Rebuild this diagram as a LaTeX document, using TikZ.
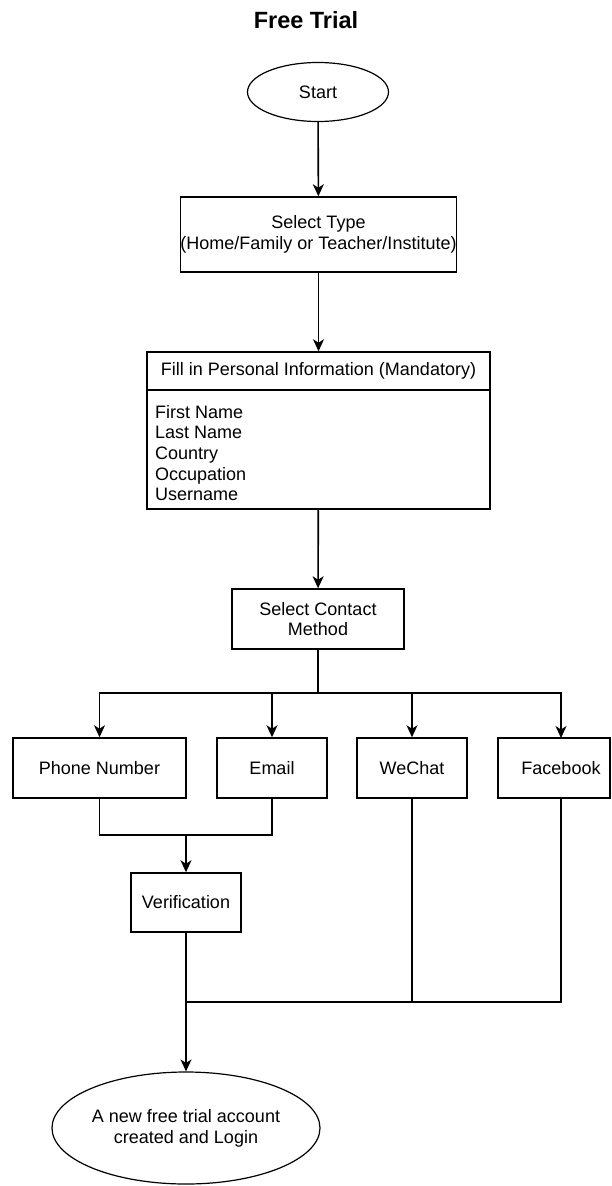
\documentclass[tikz,border=0pt]{standalone}
\usepackage{fontspec}
\setmainfont{Liberation Sans}
\usetikzlibrary{shapes.geometric,arrows.meta}
\begin{document}
\begin{tikzpicture}[x=1pt,y=-1pt,
  every node/.style={font=\fontsize{18}{20.7}\selectfont, inner sep=0pt},
  box/.style={draw, line width=1.5pt, rectangle, align=center},
  oval/.style={draw, line width=1.2pt, ellipse, align=center},
  conn/.style={line width=1.6pt},
  arr/.style={conn, -{Stealth[length=12pt,width=11pt,inset=3.5pt]}}]
\useasboundingbox (0,0) rectangle (611,1186);
\node[font=\fontsize{23.5}{28}\selectfont\bfseries] (title) at (306,20) {Free Trial};
\node[oval, minimum width=141pt, minimum height=59pt] (start) at (318,92) {Start};
\node[box, minimum width=247pt, minimum height=75pt] (type) at (318.5,234.5) {Select Type\\(Home/Family or Teacher/Institute)};
\node[box, minimum width=343pt, minimum height=157pt] (fill) at (318.5,430.5) {};
\coordinate (divl) at (147,390);
\coordinate (divr) at (490,390);
\draw[line width=1.5pt] (divl) -- (divr);
\node (fillhead) at (318.5,371) {Fill in Personal Information (Mandatory)};
\node[anchor=north west, align=left] (fillbody) at (155,404.8) {First Name\\Last Name\\Country\\Occupation\\Username};
\node[box, minimum width=172pt, minimum height=60pt] (contact) at (318,619) {Select Contact\\Method};
\node[box, minimum width=173pt, minimum height=60pt] (phone) at (99.5,768) {Phone Number};
\node[box, minimum width=110pt, minimum height=60pt] (email) at (272,768) {Email};
\node[box, minimum width=110pt, minimum height=60pt] (wechat) at (412,768) {WeChat};
\node[box, minimum width=112pt, minimum height=60pt] (fb) at (554,768) {\hspace*{14pt}Facebook};
\node[box, minimum width=110pt, minimum height=59pt] (verif) at (186,902.5) {Verification};
\node[oval, minimum width=268pt, minimum height=112pt] (end) at (186,1128) {A new free trial account\\created and Login};
\coordinate (br) at (318,693);
\coordinate (fbn) at (561,738);
\coordinate (fbs) at (561,798);
\coordinate (mg) at (186,835);
\coordinate (jn) at (186,1002);
\draw[arr] (start) -- (type);
\draw[arr] (type) -- (fill);
\draw[arr] (fill) -- (contact);
\draw[conn] (contact.south) -- (br);
\draw[arr] (br) -| (phone.north);
\draw[arr] (br) -| (email.north);
\draw[arr] (br) -| (wechat.north);
\draw[arr] (br) -| (fbn);
\draw[conn] (phone.south) |- (mg) -| (email.south);
\draw[arr] (mg) -- (verif.north);
\draw[arr] (verif.south) -- (end.north);
\draw[conn] (fbs) |- (jn);
\draw[conn] (wechat.south) -- (wechat.south |- jn);
\end{tikzpicture}
\end{document}
